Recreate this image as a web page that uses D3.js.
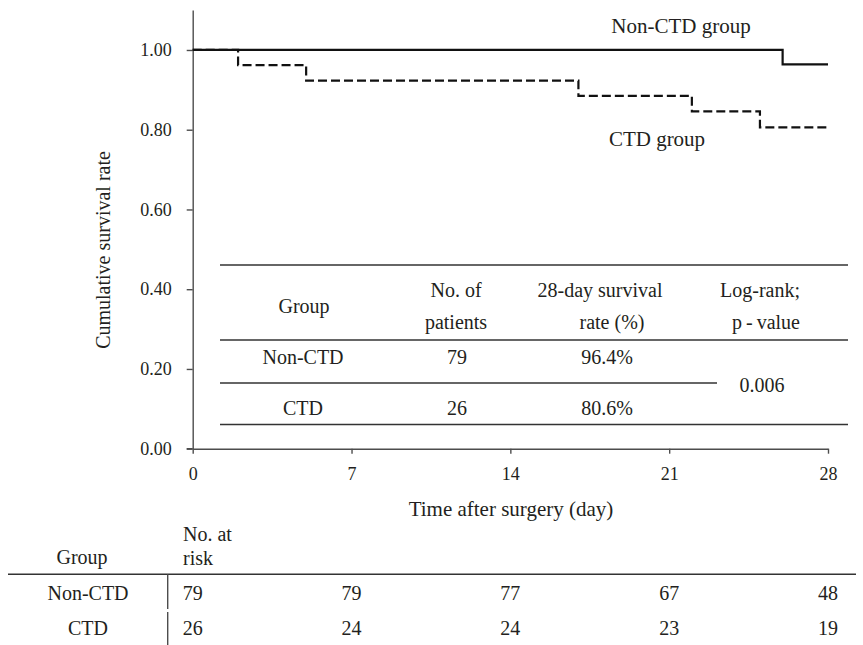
<!DOCTYPE html>
<meta charset="utf-8">
<script src="https://d3js.org/d3.v7.min.js"></script>
<style>
  body { margin: 0; background: #fff; }
  text { font-family: "Liberation Serif", "DejaVu Serif", serif; fill: #231f20; }
</style>
<body>
<script>

// Kaplan-Meier steps (day, cumulative survival)
var nonCtdDays = [0, 26, 28];
var nonCtdSurv = [1.0, 0.964, 0.964];
var ctdDays = [0, 2, 5, 17, 22, 25, 28];
var ctdSurv = [1.0, 0.962, 0.923, 0.885, 0.846, 0.806, 0.806];

// axis ticks
var dayTicks = [0, 7, 14, 21, 28];
var survTicks = [0, 0.2, 0.4, 0.6, 0.8, 1.0];

// summary table in the plot
var tableGroups = ["Non-CTD", "CTD"];
var tablePatients = [79, 26];
var tableRates = ["96.4%", "80.6%"];
var logRankP = "0.006";

// number at risk
var riskGroups = ["Non-CTD", "CTD"];
var riskNonCtd = [79, 79, 77, 67, 48];
var riskCtd = [26, 24, 24, 23, 19];

var width = 863, height = 645;

var svg = d3.select("body").append("svg")
    .attr("width", width)
    .attr("height", height);

var x = d3.scaleLinear().domain([0, 28]).range([192.7, 828]);
// axis line runs above 1.00, up to about 1.1
var y = d3.scaleLinear().domain([0, 1.1]).range([448.7, 10.1]);

// axes
var yAxis = svg.append("g")
    .attr("transform", "translate(" + x(0) + ",0)")
    .call(d3.axisLeft(y).tickValues(survTicks).tickFormat(d3.format(".2f"))
      .tickSize(6).tickSizeOuter(0).tickPadding(15));

var xAxis = svg.append("g")
    .attr("transform", "translate(0," + y(0) + ")")
    .call(d3.axisBottom(x).tickValues(dayTicks)
      .tickSize(5).tickSizeOuter(0).tickPadding(14));

[yAxis, xAxis].forEach(function(g){
  g.selectAll("path, line").attr("stroke", "#4d4d4d").attr("stroke-width", 1.4);
  g.selectAll("text")
    .style("font-family", "'Liberation Serif', serif")
    .style("font-size", "18px")
    .attr("fill", "#231f20");
});

// extend x axis line left to the 0.00 tick
svg.append("line")
    .attr("x1", x(0) - 6).attr("x2", x(0))
    .attr("y1", y(0)).attr("y2", y(0))
    .attr("stroke", "#4d4d4d").attr("stroke-width", 1.4);

// curves
var step = d3.line()
    .x(function(d){ return x(d[0]); })
    .y(function(d){ return y(d[1]); })
    .curve(d3.curveStepAfter);

svg.append("path")
    .datum(d3.zip(nonCtdDays, nonCtdSurv))
    .attr("d", step)
    .attr("fill", "none")
    .attr("stroke", "#111")
    .attr("stroke-width", 2.2);

svg.append("path")
    .datum(d3.zip(ctdDays, ctdSurv))
    .attr("d", step)
    .attr("fill", "none")
    .attr("stroke", "#111")
    .attr("stroke-width", 2.2)
    .attr("stroke-dasharray", "9,4");

svg.append("text").attr("x", 681).attr("y", 33)
    .attr("text-anchor", "middle").style("font-size", "21px")
    .text("Non-CTD group");
svg.append("text").attr("x", 657).attr("y", 146)
    .attr("text-anchor", "middle").style("font-size", "21px")
    .text("CTD group");

// axis titles
svg.append("text")
    .attr("transform", "translate(110,250) rotate(-90)")
    .attr("text-anchor", "middle").style("font-size", "20px")
    .text("Cumulative survival rate");

svg.append("text")
    .attr("x", 511).attr("y", 516)
    .attr("text-anchor", "middle").style("font-size", "21px")
    .text("Time after surgery (day)");

// summary table inside the plot
var tbl = svg.append("g").style("font-size", "20px");
function hline(g, x1, x2, yy) {
  g.append("line").attr("x1", x1).attr("x2", x2).attr("y1", yy).attr("y2", yy)
    .attr("stroke", "#333").attr("stroke-width", 1.4);
}
function label(g, xx, yy, t) {
  g.append("text").attr("x", xx).attr("y", yy).attr("text-anchor", "middle").text(t);
}
hline(tbl, 220, 848, 265);
hline(tbl, 220, 848, 340);
hline(tbl, 220, 717, 383);
hline(tbl, 220, 848, 424.5);

label(tbl, 304, 313, "Group");
label(tbl, 456, 297, "No. of");
label(tbl, 456, 329, "patients");
label(tbl, 600, 297, "28-day survival");
label(tbl, 612, 329, "rate (%)");
label(tbl, 760, 297, "Log-rank;");
label(tbl, 766, 329, "p\u2009-\u2009value");

var rowY = [364, 415];
tableGroups.forEach(function(g, i){
  label(tbl, 303, rowY[i], g);
  label(tbl, 457, rowY[i], tablePatients[i]);
  label(tbl, 607, rowY[i], tableRates[i]);
});
label(tbl, 762, 392, logRankP);

// number at risk table
var risk = svg.append("g").style("font-size", "20px");
hline(risk, 8, 856, 574.3);
risk.append("line").attr("x1", 167.7).attr("x2", 167.7).attr("y1", 574.3).attr("y2", 609)
    .attr("stroke", "#4d4d4d").attr("stroke-width", 1.4);
risk.append("line").attr("x1", 167.7).attr("x2", 167.7).attr("y1", 612).attr("y2", 645)
    .attr("stroke", "#4d4d4d").attr("stroke-width", 1.4);

label(risk, 82, 564, "Group");
risk.append("text").attr("x", 183).attr("y", 541).text("No. at");
risk.append("text").attr("x", 183).attr("y", 565).text("risk");

var riskY = [600, 635];
riskGroups.forEach(function(g, i){ label(risk, 88, riskY[i], g); });

risk.selectAll(".nonctd")
  .data(riskNonCtd)
  .enter().append("text")
    .attr("x", function(d, i){ return x(dayTicks[i]); })
    .attr("y", riskY[0])
    .attr("text-anchor", "middle")
    .text(function(d){ return d; });

risk.selectAll(".ctd")
  .data(riskCtd)
  .enter().append("text")
    .attr("x", function(d, i){ return x(dayTicks[i]); })
    .attr("y", riskY[1])
    .attr("text-anchor", "middle")
    .text(function(d){ return d; });

</script>
</body>
